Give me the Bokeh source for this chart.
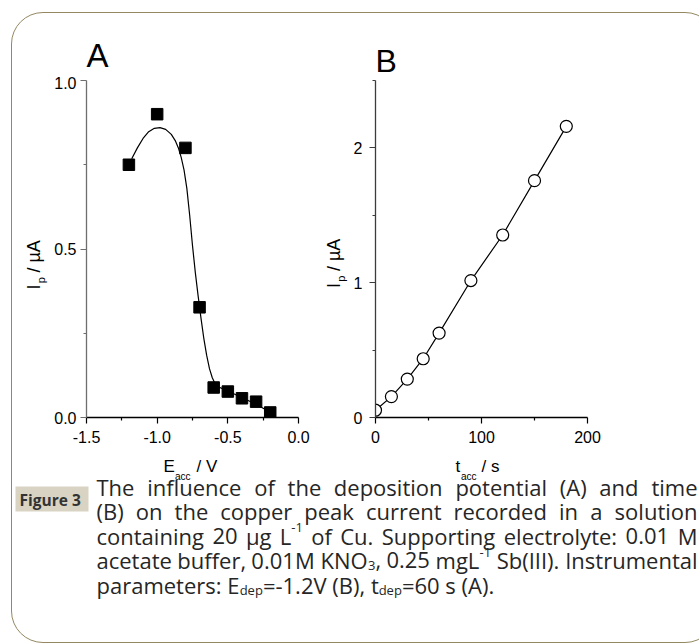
import re
from bokeh.plotting import figure
from bokeh.models import (Range1d, FixedTicker, NumeralTickFormatter,
                          ColumnDataSource, InlineStyleSheet)
from bokeh.layouts import row, column
from bokeh.embed import file_html
from bokeh.resources import INLINE
from bokeh.core.properties import value

# ---------------- data ----------------
# Panel A: peak current vs accumulation potential
e_acc = [-1.2, -1.0, -0.8, -0.7, -0.6, -0.5, -0.4, -0.3, -0.2]
ip_a = [0.750, 0.900, 0.800, 0.327, 0.089, 0.077, 0.057, 0.047, 0.015]
# fitted curve
fit_e = [-1.18, -1.14, -1.10, -1.06, -1.02, -0.98, -0.94, -0.90, -0.87, -0.85,
         -0.83, -0.81, -0.79, -0.77, -0.75, -0.73, -0.71, -0.69, -0.67, -0.65,
         -0.63, -0.61, -0.59, -0.56, -0.52, -0.48, -0.44, -0.40, -0.36, -0.32,
         -0.28, -0.24, -0.20]
fit_ip = [0.768, 0.800, 0.828, 0.848, 0.858, 0.860, 0.855, 0.840, 0.820, 0.800,
          0.772, 0.735, 0.680, 0.600, 0.510, 0.430, 0.360, 0.295, 0.235, 0.185,
          0.145, 0.118, 0.100, 0.090, 0.082, 0.075, 0.067, 0.058, 0.051, 0.043,
          0.034, 0.025, 0.017]
# Panel B: peak current vs accumulation time
t_acc = [0, 15, 30, 45, 60, 90, 120, 150, 180]
ip_b = [0.054, 0.155, 0.285, 0.436, 0.626, 1.016, 1.354, 1.757, 2.160]

a_xticks = [-1.5, -1.0, -0.5, 0.0]
a_xminor = [-1.25, -0.75, -0.25]
a_yticks = [0.0, 0.5, 1.0]
a_yminor = [0.25, 0.75]
b_xticks = [0, 100, 200]
b_xminor = [50, 150]
b_yticks = [0, 1, 2]
b_yminor = [0.5, 1.5, 2.5]

panel_tags = ["A", "B"]
y_title = ["I", "p", "/ µA"]
x_title_a = ["E", "acc", "/ V"]
x_title_b = ["t", "acc", "/ s"]
caption_tag = "Figure 3"
caption_lines = [
    "The influence of the deposition potential (A) and time",
    "(B) on the copper peak current recorded in a solution",
    "containing 20 µg L^{-1} of Cu. Supporting electrolyte: 0.01 M",
    "acetate buffer, 0.01M KNO_{3}, 0.25 mgL^{-1} Sb(III). Instrumental",
    "parameters: E_{dep}=-1.2V (B), t_{dep}=60 s (A).",
]

# ---------------- styling / geometry (page pixels) ----------------
AX_FONT = "Liberation Sans"
CAP_FONT = "Open Sans"
BORDER = "#948862"
TXT = "#262626"
PAGE_H = 644
Y_MID_END = 455            # bottom of the plot row on the page
TOP_A, TOP_B = 76, 80      # heights of the strips holding the panel letters
W_L, W_A, W_M, W_B = 50, 268, 32, 349
W_ALL = W_L + W_A + W_M + W_B
H_CAP = PAGE_H - Y_MID_END


def blank(width, height, xr, yr):
    p = figure(width=width, height=height, x_range=Range1d(*xr), y_range=Range1d(*yr),
               output_backend="svg", toolbar_location=None, title=None, min_border=0)
    p.axis.visible = False
    p.grid.visible = False
    p.outline_line_color = None
    p.background_fill_color = "white"
    p.border_fill_color = "white"
    return p


def panel(width, height, xr, yr, left, right, top):
    p = figure(width=width, height=height, x_range=Range1d(*xr), y_range=Range1d(*yr),
               output_backend="svg", toolbar_location=None, title=None,
               min_border_left=left, min_border_right=right,
               min_border_top=top, min_border_bottom=38)
    p.outline_line_color = None
    p.xgrid.visible = False
    p.ygrid.visible = False
    p.background_fill_color = "white"
    p.border_fill_color = "white"
    return p


def style_axis(ax, ticks, minor, fmt, color, standoff):
    ax.ticker = FixedTicker(ticks=ticks, minor_ticks=minor)
    ax.formatter = NumeralTickFormatter(format=fmt)
    ax.major_tick_out = 6
    ax.major_tick_in = 0
    ax.minor_tick_out = 3
    ax.minor_tick_in = 0
    ax.axis_line_color = color
    ax.major_tick_line_color = color
    ax.minor_tick_line_color = color
    ax.axis_line_width = 1.3
    ax.major_tick_line_width = 1.2
    ax.minor_tick_line_width = 1.2
    ax.major_label_text_font = AX_FONT
    ax.major_label_text_font_size = "16px"
    ax.major_label_text_color = "black"
    ax.major_label_standoff = standoff


# ---------------- strips with the panel letters ----------------
pTopA = blank(W_L + W_A, TOP_A, (0, W_L + W_A), (TOP_A, 0))
pTopA.text(x=[86], y=[54.5], text=[panel_tags[0]], text_font=value(AX_FONT),
           text_font_size="33px", text_color="black", text_baseline="alphabetic")
pTopB = blank(W_M + W_B, TOP_B, (W_L + W_A, W_ALL), (TOP_B, 0))
pTopB.text(x=[375], y=[60], text=[panel_tags[1]], text_font=value(AX_FONT),
           text_font_size="32px", text_color="black", text_baseline="alphabetic")

# ---------------- panel A ----------------
pA = panel(W_A, Y_MID_END - TOP_A, (-1.5, 0.0), (0.0, 1.0), 36, 20, 80 - TOP_A)
style_axis(pA.xaxis[0], a_xticks, a_xminor, "0.0", "black", 7)
style_axis(pA.yaxis[0], a_yticks, a_yminor, "0.0", "#6e6e6e", 4)
pA.line(fit_e, fit_ip, line_color="black", line_width=1.2)
pA.scatter(e_acc, ip_a, marker="square", size=11.5, fill_color="black", line_color="black")

# ---------------- panel B ----------------
pB = panel(W_B, Y_MID_END - TOP_B, (0, 200), (0, 2.5), 25, 112, 80 - TOP_B)
style_axis(pB.xaxis[0], b_xticks, b_xminor, "0", "black", 7)
style_axis(pB.yaxis[0], b_yticks, b_yminor, "0", "#3c3c3c", 7)
pB.line(t_acc, ip_b, line_color="black", line_width=1.2)
pB.scatter(t_acc, ip_b, marker="circle", size=12, fill_color="white", line_color="black",
           line_width=1.2)


# ---------------- y-axis title strips (y measured upward from page bottom) ----------------
def y_title_strip(width, top, x0, base_x):
    p = blank(width, Y_MID_END - top, (x0, x0 + width), (PAGE_H - Y_MID_END, PAGE_H - top))
    src = ColumnDataSource(dict(x=[base_x, base_x + 7, base_x],
                                y=[PAGE_H - 311, PAGE_H - 304, PAGE_H - 292],
                                text=y_title, size=["18px", "11px", "18px"]))
    p.text(x="x", y="y", text="text", source=src, angle=1.5707963, text_font=value(AX_FONT),
           text_font_size="size", text_color="black", text_align="left",
           text_baseline="alphabetic")
    return p


pL = y_title_strip(W_L, TOP_A, 0, 33)
pM = y_title_strip(W_M, TOP_B, W_L + W_A, 333)

# ---------------- caption panel (page pixel coordinates) ----------------
pC = blank(W_ALL, H_CAP, (0, W_ALL), (PAGE_H, Y_MID_END))

ax_title = dict(x=[163, 174.5, 196, 455, 460.5, 481],
                y=[466, 476, 466, 466, 476, 466],
                text=x_title_a + x_title_b,
                size=["17px", "10px", "17px", "17px", "10px", "17px"])
pC.text(x="x", y="y", text="text", source=ColumnDataSource(ax_title),
        text_font=value(AX_FONT), text_font_size="size", text_color="black",
        text_baseline="alphabetic", text_align="left")

baselines = [486, 510.5, 535, 559.5, 584]
pC.quad(left=15, right=88, top=486, bottom=511, fill_color="#d9d3c3", line_color=None)
pC.text(x=[19], y=[499], text=[caption_tag], text_font=value(CAP_FONT),
        text_font_size="15.5px", text_font_style="bold", text_color="#333333",
        text_baseline="alphabetic")

OS_W = {" ": 0.260, "(": 0.296, ")": 0.296, ",": 0.245, "-": 0.322, ".": 0.266,
        "/": 0.367, ":": 0.266, "=": 0.572, "µ": 0.618,
        "A": 0.633, "B": 0.648, "C": 0.631, "D": 0.729, "E": 0.556, "F": 0.516,
        "G": 0.728, "H": 0.738, "I": 0.279, "K": 0.614, "L": 0.519, "M": 0.907,
        "N": 0.765, "O": 0.779, "P": 0.602, "S": 0.549, "T": 0.553, "U": 0.730,
        "V": 0.600,
        "a": 0.556, "b": 0.613, "c": 0.479, "d": 0.613, "e": 0.561, "f": 0.336,
        "g": 0.544, "h": 0.614, "i": 0.258, "k": 0.524, "l": 0.258, "m": 0.932,
        "n": 0.614, "o": 0.602, "p": 0.613, "r": 0.408, "s": 0.477, "t": 0.353,
        "u": 0.614, "v": 0.501, "w": 0.772, "x": 0.523, "y": 0.502, "z": 0.460}
FS, FS_SMALL = 22.0, 13.0


def char_w(s, size):
    return sum(OS_W.get(c, 0.572) for c in s) * size


def parse(word):
    segs = []
    for part in re.split(r"(\^\{[^}]*\}|_\{[^}]*\})", word):
        if not part:
            continue
        if part.startswith("^{"):
            segs.append((part[2:-1], "sup"))
        elif part.startswith("_{"):
            segs.append((part[2:-1], "sub"))
        else:
            segs.append((part, "n"))
    return segs


XL, XR = 96, 697
cl = dict(x=[], y=[], text=[], size=[])
cr = dict(x=[], y=[], text=[], size=[])


def put(x, y, t, k):
    size = FS if k == "n" else FS_SMALL
    dy = 0 if k == "n" else (-8 if k == "sup" else 5)
    cl["x"].append(x); cl["y"].append(y + dy); cl["text"].append(t)
    cl["size"].append("%gpx" % size)
    return x + char_w(t, size)


for li, line in enumerate(caption_lines):
    yb = baselines[li]
    justify = li < len(caption_lines) - 1
    if not justify:
        x = XL
        for t, k in parse(line):
            x = put(x, yb, t, k)
        continue
    words = [parse(w) for w in line.split(" ")]
    widths = [sum(char_w(t, FS if k == "n" else FS_SMALL) for t, k in w) for w in words]
    gap = (XR - XL - sum(widths)) / (len(words) - 1)
    x = XL
    for wi, w in enumerate(words):
        if wi == len(words) - 1 and len(w) == 1:
            cr["x"].append(XR); cr["y"].append(yb); cr["text"].append(w[0][0])
            cr["size"].append("%gpx" % FS)
            break
        for t, k in w:
            x = put(x, yb, t, k)
        x += gap

pC.text(x="x", y="y", text="text", source=ColumnDataSource(cl), text_font=value(CAP_FONT),
        text_font_size="size", text_color=TXT, text_baseline="alphabetic", text_align="left")
pC.text(x="x", y="y", text="text", source=ColumnDataSource(cr), text_font=value(CAP_FONT),
        text_font_size="size", text_color=TXT, text_baseline="alphabetic", text_align="right")

css = InlineStyleSheet(css="""
:host { position: relative; overflow: hidden; }
:host::after { content: ""; position: absolute; left: 11px; top: 12px; width: 706px;
  height: 631px; border: 1.5px solid %s; border-radius: 32px; box-sizing: border-box;
  pointer-events: none; z-index: 10; }
""" % BORDER)

left = column(pTopA, row(pL, pA))
right = column(pTopB, row(pM, pB))
layout = column(row(left, right), pC, stylesheets=[css])

open("out.html", "w").write(file_html(layout, INLINE))
